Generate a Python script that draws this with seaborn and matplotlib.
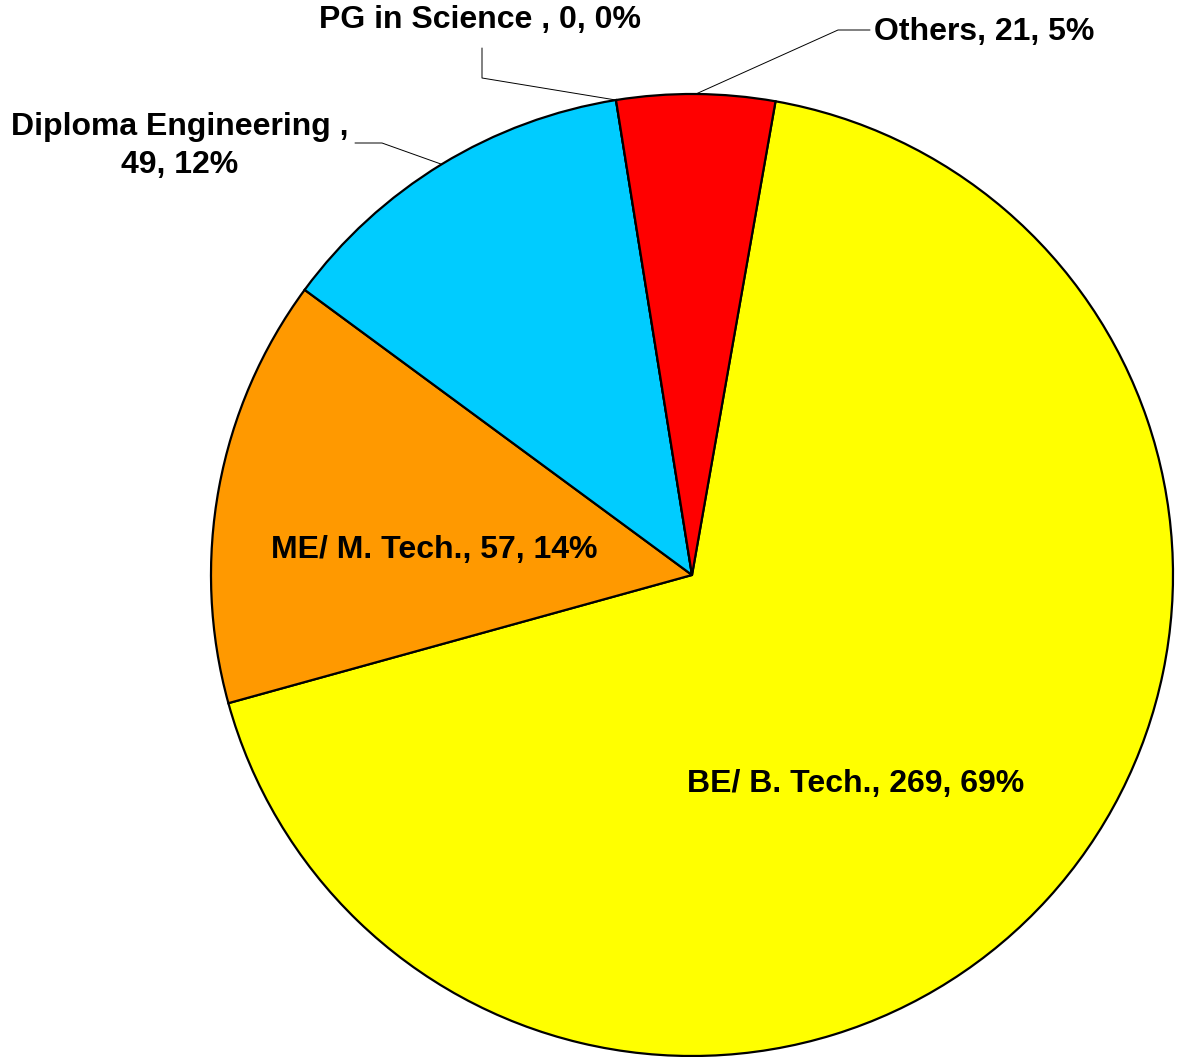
import numpy as np
import matplotlib
matplotlib.use("Agg")
import matplotlib.pyplot as plt
import seaborn as sns

# data
labels = ["BE/ B. Tech.", "ME/ M. Tech.", "Diploma Engineering ", "PG in Science ", "Others"]
counts = [269, 57, 49, 0, 21]
pct_labels = ["69%", "14%", "12%", "0%", "5%"]
colors = ["#FFFF00", "#FF9900", "#00CCFF", "#9999FF", "#FF0000"]

sns.set_style("white")
plt.rcParams["font.family"] = ["Liberation Sans", "DejaVu Sans"]
plt.rcParams["text.color"] = "black"

W, H = 1178, 1057
fig = plt.figure(figsize=(W / 100, H / 100), dpi=100)
ax = fig.add_axes([0, 0, 1, 1])


def py(y):
    # pixel row (from top) -> axis y
    return H - y


cx, cy, r = 692, 575, 481
wedges, _ = ax.pie(counts, colors=colors, startangle=80, counterclock=False,
                   center=(cx, py(cy)), radius=r, frame=True,
                   wedgeprops=dict(edgecolor="black", linewidth=1.6))
ax.set_xlim(0, W)
ax.set_ylim(0, H)
ax.set_aspect("equal")
ax.axis("off")


def edge_point(w):
    ang = np.deg2rad((w.theta1 + w.theta2) / 2)
    return cx + r * np.cos(ang), py(cy) + r * np.sin(ang)


fs = 23
kw = dict(ha="center", va="center", fontsize=fs, fontweight="bold", color="black")
txt = [f"{l}, {c}, {p}" for l, c, p in zip(labels, counts, pct_labels)]

# inside labels
ax.text(856, py(784), txt[0], **kw)
ax.text(434, py(550), txt[1], **kw)

# outside labels with leader lines
ax.text(180, py(146), f"{labels[2]},\n{counts[2]}, {pct_labels[2]}", linespacing=1.35, **kw)
x0, y0 = edge_point(wedges[2])
ax.plot([x0, 382, 355], [y0, py(143), py(143)], color="black", lw=0.7)

ax.text(480, py(20), txt[3], **kw)
x0, y0 = edge_point(wedges[3])
ax.plot([x0, 482, 482], [y0, py(78), py(48)], color="black", lw=0.7)

ax.text(984, py(32), txt[4], **kw)
x0, y0 = edge_point(wedges[4])
ax.plot([x0, 838, 870], [y0, py(30), py(30)], color="black", lw=0.7)

fig.savefig("out.png", dpi=100, facecolor="white")
